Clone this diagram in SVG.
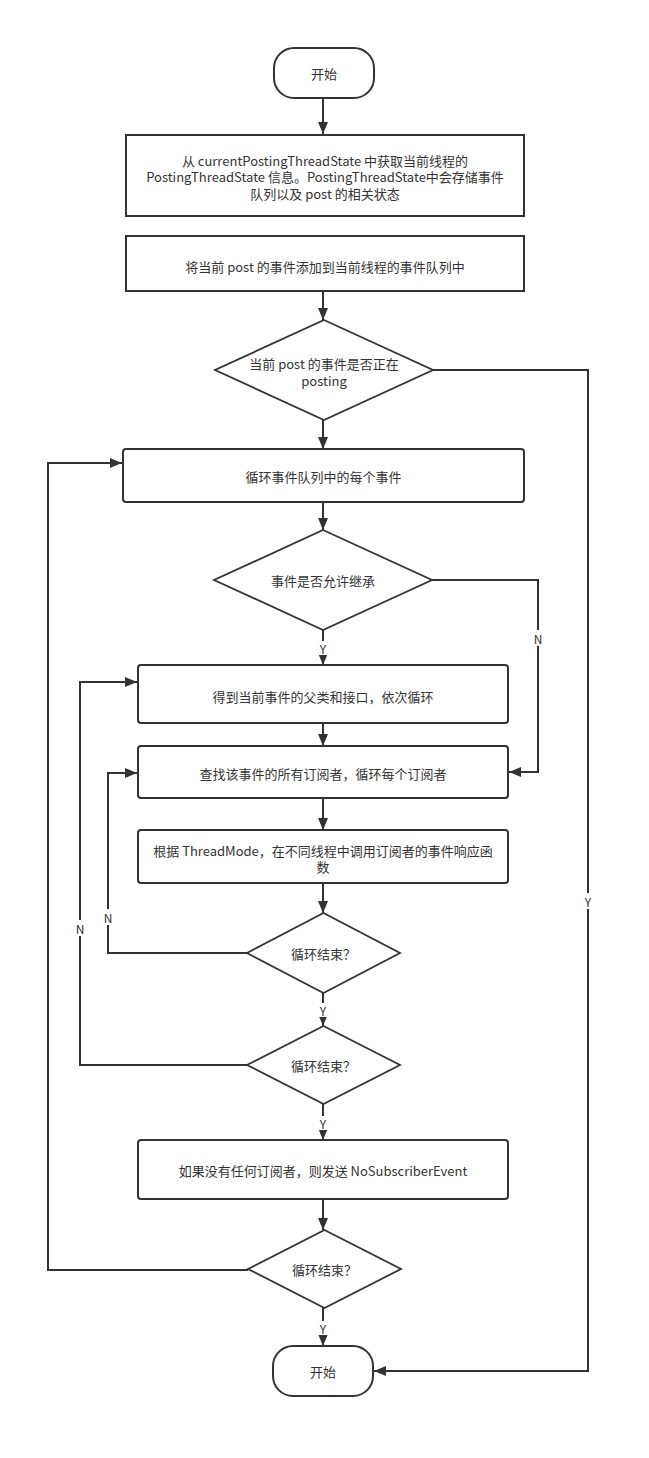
<svg xmlns="http://www.w3.org/2000/svg" width="649" height="1458" viewBox="0 0 649 1458">
<style>
.box{fill:#fff;stroke:#333;stroke-width:2}
.dia{fill:#fff;stroke:#333;stroke-width:1.8}
.t{font-family:"Noto Sans CJK SC","Noto Sans",sans-serif;font-size:13px;fill:#333;text-anchor:middle;dominant-baseline:central}
.lbl{font-family:"Noto Sans CJK SC","Noto Sans",sans-serif;font-size:12px;fill:#333;text-anchor:middle;dominant-baseline:central}
.c{fill:none;stroke:#333;stroke-width:2}
.bg{fill:#fff}
</style>
<defs>
<marker id="arr" markerUnits="userSpaceOnUse" markerWidth="13" markerHeight="11" refX="12" refY="5" orient="auto">
<path d="M0,0 L12,5 L0,10 z" fill="#333"/>
</marker>
</defs>
<rect width="649" height="1458" fill="#fff"/>
<g id="connectors">
<path class="c" d="M323,98 L323,134" marker-end="url(#arr)"/>
<path class="c" d="M323,291 L323,320" marker-end="url(#arr)"/>
<path class="c" d="M433,370 L588,370 L588,1371 L374,1371" marker-end="url(#arr)"/>
<path class="c" d="M323,420 L323,449" marker-end="url(#arr)"/>
<path class="c" d="M323,502 L323,530" marker-end="url(#arr)"/>
<path class="c" d="M432,580 L538,580 L538,772 L509,772" marker-end="url(#arr)"/>
<path class="c" d="M323,630 L323,665" marker-end="url(#arr)"/>
<path class="c" d="M323,723 L323,746" marker-end="url(#arr)"/>
<path class="c" d="M323,798 L323,830" marker-end="url(#arr)"/>
<path class="c" d="M323,883 L323,913" marker-end="url(#arr)"/>
<path class="c" d="M247,953 L108,953 L108,773 L137,773" marker-end="url(#arr)"/>
<path class="c" d="M323,993 L323,1026" marker-end="url(#arr)"/>
<path class="c" d="M247,1065 L80,1065 L80,682 L137,682" marker-end="url(#arr)"/>
<path class="c" d="M323,1104 L323,1140" marker-end="url(#arr)"/>
<path class="c" d="M323,1199 L323,1230" marker-end="url(#arr)"/>
<path class="c" d="M248,1270 L48,1270 L48,463 L122,463" marker-end="url(#arr)"/>
<path class="c" d="M323,1308 L323,1346" marker-end="url(#arr)"/>
<rect class="bg" x="582" y="893" width="12" height="16"/><text class="lbl" x="588" y="901">Y</text>
<rect class="bg" x="532" y="630" width="12" height="16"/><text class="lbl" x="538" y="638">N</text>
<rect class="bg" x="102" y="909" width="12" height="16"/><text class="lbl" x="108" y="917">N</text>
<rect class="bg" x="74" y="920" width="12" height="16"/><text class="lbl" x="80" y="928">N</text>
<rect class="bg" x="318" y="641" width="10" height="14"/><text class="lbl" x="323" y="648">Y</text>
<rect class="bg" x="318" y="1003" width="10" height="14"/><text class="lbl" x="323" y="1010">Y</text>
<rect class="bg" x="318" y="1116" width="10" height="14"/><text class="lbl" x="323" y="1123">Y</text>
<rect class="bg" x="318" y="1321" width="10" height="14"/><text class="lbl" x="323" y="1328">Y</text>
</g>
<g id="start">
<rect class="box" x="274" y="48" width="100" height="50" rx="20" ry="20"/>
<text class="t" x="324" y="73">开始</text>
</g>
<g id="getState">
<rect class="box" x="126" y="135" width="398" height="81"/>
<text class="t" x="325" y="160">从 currentPostingThreadState 中获取当前线程的</text>
<text class="t" x="325" y="176.5">PostingThreadState 信息。PostingThreadState中会存储事件</text>
<text class="t" x="325" y="193">队列以及 post 的相关状态</text>
</g>
<g id="addEvent">
<rect class="box" x="126" y="236" width="398" height="55"/>
<text class="t" x="325" y="266">将当前 post 的事件添加到当前线程的事件队列中</text>
</g>
<g id="isPosting">
<polygon class="dia" points="324,320 433,370 324,420 215,370"/>
<text class="t" x="324" y="363">当前 post 的事件是否正在</text>
<text class="t" x="324" y="380">posting</text>
</g>
<g id="loopQueue">
<rect class="box" x="123" y="449" width="401" height="53" rx="3"/>
<text class="t" x="323.5" y="476">循环事件队列中的每个事件</text>
</g>
<g id="inherit">
<polygon class="dia" points="323,530 432,580 323,630 214,580"/>
<text class="t" x="323" y="580">事件是否允许继承</text>
</g>
<g id="superTypes">
<rect class="box" x="138" y="665" width="370" height="58" rx="3"/>
<text class="t" x="323" y="696">得到当前事件的父类和接口，依次循环</text>
</g>
<g id="findSubs">
<rect class="box" x="138" y="746" width="370" height="52" rx="3"/>
<text class="t" x="323" y="773">查找该事件的所有订阅者，循环每个订阅者</text>
</g>
<g id="invoke">
<rect class="box" x="138" y="830" width="370" height="53" rx="3"/>
<text class="t" x="323" y="850">根据 ThreadMode，在不同线程中调用订阅者的事件响应函</text>
<text class="t" x="323" y="866.5">数</text>
</g>
<g id="loopEnd1">
<polygon class="dia" points="323.5,913 400,953 323.5,993 247,953"/>
<text class="t" x="323.5" y="953">循环结束？</text>
</g>
<g id="loopEnd2">
<polygon class="dia" points="323.5,1026 400,1065 323.5,1104 247,1065"/>
<text class="t" x="323.5" y="1065">循环结束？</text>
</g>
<g id="noSub">
<rect class="box" x="138" y="1140" width="370" height="59" rx="3"/>
<text class="t" x="323" y="1170">如果没有任何订阅者，则发送 NoSubscriberEvent</text>
</g>
<g id="loopEnd3">
<polygon class="dia" points="324.5,1230 401,1269 324.5,1308 248,1269"/>
<text class="t" x="324.5" y="1269">循环结束？</text>
</g>
<g id="end">
<rect class="box" x="273" y="1346" width="100" height="50" rx="20" ry="20"/>
<text class="t" x="323" y="1371">开始</text>
</g>
</svg>
